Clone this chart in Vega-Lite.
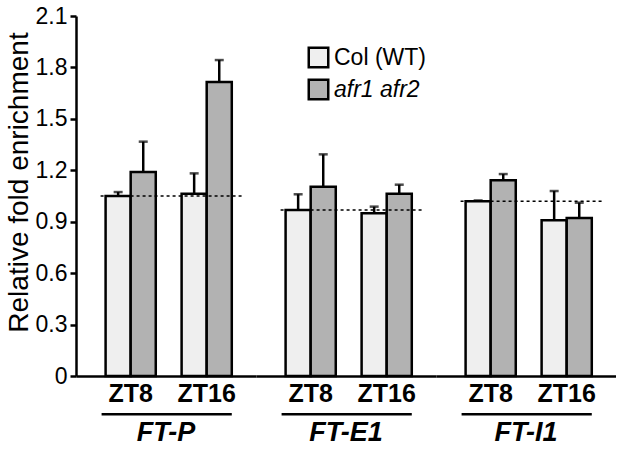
{
  "$schema": "https://vega.github.io/schema/vega-lite/v6.json",
  "padding": {"left": 5, "top": 5, "right": 0, "bottom": 0},
  "background": "white",
  "bounds": "flush",
  "spacing": 0,
  "data": {"values": [
    {"group": "FT-P", "zt": "ZT8", "genotype": "Col (WT)", "mean": 1.05, "upper": 1.073},
    {"group": "FT-P", "zt": "ZT8", "genotype": "afr1 afr2", "mean": 1.19, "upper": 1.367},
    {"group": "FT-P", "zt": "ZT16", "genotype": "Col (WT)", "mean": 1.063, "upper": 1.182},
    {"group": "FT-P", "zt": "ZT16", "genotype": "afr1 afr2", "mean": 1.715, "upper": 1.843},
    {"group": "FT-E1", "zt": "ZT8", "genotype": "Col (WT)", "mean": 0.968, "upper": 1.06},
    {"group": "FT-E1", "zt": "ZT8", "genotype": "afr1 afr2", "mean": 1.104, "upper": 1.293},
    {"group": "FT-E1", "zt": "ZT16", "genotype": "Col (WT)", "mean": 0.949, "upper": 0.988},
    {"group": "FT-E1", "zt": "ZT16", "genotype": "afr1 afr2", "mean": 1.063, "upper": 1.116},
    {"group": "FT-I1", "zt": "ZT8", "genotype": "Col (WT)", "mean": 1.019, "upper": 1.024},
    {"group": "FT-I1", "zt": "ZT8", "genotype": "afr1 afr2", "mean": 1.142, "upper": 1.178},
    {"group": "FT-I1", "zt": "ZT16", "genotype": "Col (WT)", "mean": 0.908, "upper": 1.079},
    {"group": "FT-I1", "zt": "ZT16", "genotype": "afr1 afr2", "mean": 0.922, "upper": 1.011}
  ]},
  "facet": {
    "column": {
      "field": "group", "type": "nominal", "sort": ["FT-P", "FT-E1", "FT-I1"], "title": null,
      "header": {"labelOrient": "bottom", "labelFont": "Liberation Sans", "labelFontSize": 27, "labelFontWeight": "bold", "labelFontStyle": "italic", "labelColor": "black", "labelPadding": 14}
    }
  },
  "spec": {
    "width": 180,
    "height": 360,
    "layer": [
      {
        "mark": {"type": "bar", "stroke": "black", "strokeWidth": 2.5},
        "encoding": {
          "x": {"field": "zt", "type": "nominal", "scale": {"domain": ["ZT8", "ZT16"], "paddingInner": 0.34, "paddingOuter": 0.354, "align": 0.55},
                "axis": {"title": null, "labelAngle": 0, "ticks": false, "labelFont": "Liberation Sans", "labelFontSize": 25, "labelFontWeight": "bold", "labelColor": "black", "domainColor": "black", "domainWidth": 2.5, "labelPadding": 5}},
          "xOffset": {"field": "genotype", "type": "nominal", "scale": {"domain": ["Col (WT)", "afr1 afr2"], "paddingInner": 0, "paddingOuter": 0}},
          "y": {"field": "mean", "type": "quantitative", "scale": {"domain": [0, 2.1], "nice": false},
                "axis": {"title": "Relative fold enrichment", "titleFont": "Liberation Sans", "titleFontSize": 28, "titleFontWeight": "normal", "titleColor": "black", "titleY": 166, "labelFont": "Liberation Sans", "labelFontSize": 23, "labelColor": "black", "values": [0, 0.3, 0.6, 0.9, 1.2, 1.5, 1.8, 2.1], "labelExpr": "datum.value == 0 ? '0' : format(datum.value, '.1f')", "grid": false, "domainColor": "black", "domainWidth": 2.5, "tickColor": "black", "tickWidth": 2.5, "tickSize": 6, "labelPadding": 3, "titlePadding": 2}},
          "color": {"field": "genotype", "type": "nominal", "scale": {"domain": ["Col (WT)", "afr1 afr2"], "range": ["#efefef", "#b2b2b2"]},
                    "legend": {"title": null, "orient": "none", "legendX": 231, "legendY": 30, "symbolType": "square", "symbolSize": 380, "symbolStrokeColor": "black", "symbolStrokeWidth": 2.5, "labelFont": "Liberation Sans", "labelFontSize": 23, "labelColor": "black", "rowPadding": 1, "labelOffset": 4, "labelFontStyle": {"expr": "datum.label == 'afr1 afr2' ? 'italic' : 'normal'"}}}
        }
      },
      {
        "mark": {"type": "rule", "strokeWidth": 2.5, "color": "black"},
        "encoding": {
          "x": {"field": "zt", "type": "nominal"},
          "xOffset": {"field": "genotype", "type": "nominal"},
          "y": {"field": "mean", "type": "quantitative"},
          "y2": {"field": "upper"}
        }
      },
      {
        "mark": {"type": "tick", "thickness": 2.5, "size": 9, "color": "black", "orient": "horizontal"},
        "encoding": {
          "x": {"field": "zt", "type": "nominal"},
          "xOffset": {"field": "genotype", "type": "nominal"},
          "y": {"field": "upper", "type": "quantitative"}
        }
      },
      {
        "transform": [{"filter": "datum.genotype == 'Col (WT)' && datum.zt == 'ZT8'"}],
        "mark": {"type": "rule", "strokeDash": [3, 3], "strokeWidth": 1.5, "color": "black"},
        "encoding": {
          "x": {"datum": "ZT8", "type": "nominal", "bandPosition": -0.1},
          "x2": {"datum": "ZT16", "bandPosition": 1.2},
          "y": {"field": "mean", "type": "quantitative"}
        }
      },
      {
        "transform": [{"filter": "datum.genotype == 'Col (WT)' && datum.zt == 'ZT8'"}],
        "mark": {"type": "rule", "strokeWidth": 2.5, "color": "black", "clip": false},
        "encoding": {
          "x": {"datum": "ZT8", "type": "nominal", "bandPosition": -0.08},
          "x2": {"datum": "ZT16", "bandPosition": 1.0},
          "y": {"datum": -0.2234, "type": "quantitative"}
        }
      }
    ]
  },
  "config": {"view": {"stroke": null}, "font": "Liberation Sans"}
}
